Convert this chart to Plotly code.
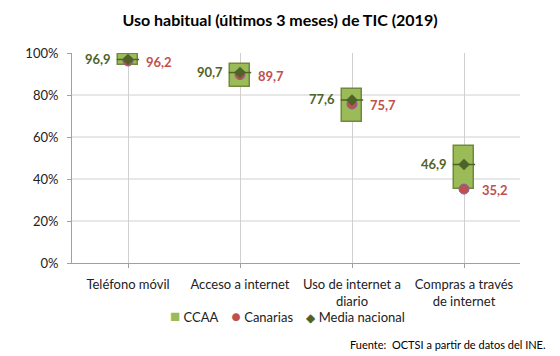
import plotly.graph_objects as go

categories = ["Teléfono móvil", "Acceso a internet", "Uso de internet a<br>diario", "Compras a través<br>de internet"]
ccaa_min = [94.5, 84.0, 67.0, 35.2]
ccaa_max = [99.5, 95.0, 83.0, 55.5]
canarias = [96.2, 89.7, 75.7, 35.2]
media_nacional = [96.9, 90.7, 77.6, 46.9]
y_ticks = [0, 20, 40, 60, 80, 100]
y_tick_labels = ["0%", "20%", "40%", "60%", "80%", "100%"]

FONT = "Lato"
GREEN = "#9BBB59"
GREEN_LINE = "#71893F"
DARK_GREEN = "#4F6228"
RED = "#C0504D"

def fmt(v):
    return f"{v:.1f}".replace(".", ",")

fig = go.Figure()

fig.add_trace(go.Bar(
    x=categories,
    y=[hi - lo for lo, hi in zip(ccaa_min, ccaa_max)],
    base=ccaa_min,
    width=0.17,
    marker=dict(color=GREEN, line=dict(color=GREEN_LINE, width=1.5)),
    name="CCAA", showlegend=False,
    hoverinfo="skip",
))

# horizontal line at media value inside box
fig.add_trace(go.Scatter(
    x=categories, y=media_nacional, mode="markers",
    marker=dict(symbol="line-ew", size=16, line=dict(color=DARK_GREEN, width=1.5)),
    showlegend=False, hoverinfo="skip",
))

fig.add_trace(go.Scatter(
    x=categories, y=canarias, mode="markers",
    marker=dict(symbol="circle", size=10, color=RED, line=dict(color="#8064A2", width=1)),
    name="Canarias", showlegend=False,
))

fig.add_trace(go.Scatter(
    x=categories, y=media_nacional, mode="markers",
    marker=dict(symbol="diamond", size=9, color=DARK_GREEN),
    name="Media nacional", showlegend=False,
))

for c, m, r in zip(categories, media_nacional, canarias):
    fig.add_annotation(x=c, y=m, text=f"<b>{fmt(m)}</b>", showarrow=False,
                       xanchor="right", xshift=-15, yshift=1,
                       font=dict(family=FONT, size=13, color=DARK_GREEN))
    fig.add_annotation(x=c, y=r, text=f"<b>{fmt(r)}</b>", showarrow=False,
                       xanchor="left", xshift=16, yshift=-1,
                       font=dict(family=FONT, size=13, color=RED))

for v in y_ticks[1:-1]:
    fig.add_hline(y=v, line=dict(color="#D0D0D0", width=1), layer="below")

legend_text = (
    f"<span style='color:{GREEN};font-size:17px'>■</span> CCAA    "
    f"<span style='color:{RED};font-size:16px'>●</span> Canarias    "
    f"<span style='color:{DARK_GREEN};font-size:12px'>◆</span> Media nacional"
)
fig.add_annotation(text=legend_text, xref="paper", yref="paper",
                   x=0.48, y=-0.252, xanchor="center", yanchor="middle", showarrow=False,
                   font=dict(family=FONT, size=13, color="#222222"))

fig.add_annotation(text="Fuente:  OCTSI a partir de datos del INE.", xref="paper", yref="paper",
                   x=1.0625, y=-0.39, xanchor="right", yanchor="middle", showarrow=False,
                   font=dict(family=FONT, size=11, color="#000000"))

fig.update_layout(
    width=560, height=356,
    margin=dict(l=72, r=40, t=53, b=93, autoexpand=False),
    paper_bgcolor="white", plot_bgcolor="white",
    title=dict(text="<b>Uso habitual (últimos 3 meses) de TIC (2019)</b>", x=0.5, xanchor="center",
               y=0.944, yanchor="middle", font=dict(family=FONT, size=16, color="#000000")),
    font=dict(family=FONT, size=13, color="#222222"),
    showlegend=False,
    bargap=0,
)
fig.update_xaxes(
    showgrid=True, gridcolor="#D0D0D0", showline=True, linecolor="#A0A0A0",
    ticks="outside", ticklen=4, tickcolor="#A0A0A0", range=[-0.5, 3.5], automargin=False,
    ticklabelstandoff=5,
    tickfont=dict(family=FONT, size=13, color="#222222"),
)
fig.update_yaxes(
    range=[0, 100], tickvals=y_ticks, ticktext=y_tick_labels, showgrid=False, automargin=False,
    showline=True, linecolor="#A0A0A0", ticks="outside", ticklen=4, tickcolor="#A0A0A0",
    ticklabelstandoff=6,
    tickfont=dict(family=FONT, size=13, color="#222222"), zeroline=False,
)

fig.write_html("out.html", config={"displayModeBar": False},
               post_script="document.body.style.margin='0';")
